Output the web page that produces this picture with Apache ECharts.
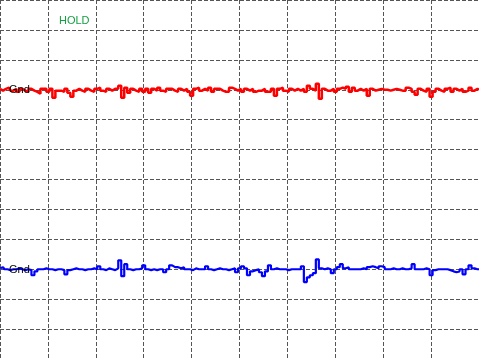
<!DOCTYPE html>
<html>
<head>
<meta charset="utf-8">
<script src="https://cdn.jsdelivr.net/npm/echarts@6/dist/echarts.min.js"></script>
<style>
html,body{margin:0;padding:0;background:#fff;}
#chart{width:479px;height:359px;}
</style>
</head>
<body>
<div id="chart"></div>
<script>
// Oscilloscope capture: 10 horizontal divisions, 12 vertical divisions
var sampleCount = 160;          // samples across the 10 horizontal divisions
var xDivisions = [0, 10];
var yDivisions = [0, 12];
var labelHold = 'HOLD';
var labelGnd = 'Gnd';

// Channel 1 (red), in divisions
var ch1 = [
  9.03, 8.97, 9.03, 9.07, 8.97, 9.03, 8.93, 9.03, 8.97, 8.93, 9.03, 8.97, 8.93, 8.87, 9.03, 9.03, 8.93, 9.03, 8.73, 8.97,
  8.97, 8.93, 9.03, 8.90, 8.77, 8.97, 9.03, 8.97, 8.93, 9.03, 8.97, 8.93, 9.03, 9.07, 8.97, 8.93, 9.03, 8.97, 9.03, 9.03,
  9.13, 8.73, 9.07, 8.90, 9.03, 8.97, 8.93, 9.03, 8.93, 9.03, 8.90, 9.03, 8.97, 9.07, 8.97, 8.93, 9.03, 9.03, 8.97, 8.93,
  9.03, 8.97, 9.03, 8.93, 8.80, 9.03, 9.07, 8.97, 9.03, 8.97, 9.07, 8.93, 9.03, 9.03, 8.97, 8.93, 8.93, 9.07, 9.03, 8.97,
  9.03, 8.93, 9.03, 8.97, 9.03, 8.93, 8.97, 8.97, 9.03, 8.93, 8.93, 9.03, 8.80, 9.03, 9.07, 8.97, 8.93, 9.03, 8.97, 9.03,
  8.97, 9.03, 8.93, 9.13, 9.03, 8.97, 9.20, 8.70, 9.03, 8.97, 8.97, 9.03, 8.93, 9.03, 9.07, 9.03, 9.10, 8.93, 9.07, 8.97,
  9.03, 8.97, 9.03, 8.80, 9.03, 8.97, 9.00, 9.03, 9.00, 9.00, 8.97, 9.00, 9.03, 9.00, 8.97, 8.97, 9.07, 9.03, 8.93, 8.83,
  9.03, 8.97, 8.93, 9.03, 8.77, 8.93, 9.03, 8.97, 8.93, 9.03, 9.07, 8.93, 9.03, 8.97, 9.03, 8.93, 8.97, 9.07, 8.97, 9.03,
  9.00
];

// Channel 2 (blue), in divisions
var ch2 = [
  3.03, 3.07, 3.00, 2.97, 3.00, 3.00, 3.03, 3.00, 2.97, 3.00, 2.97, 2.80, 2.93, 3.00, 3.00, 3.03, 3.00, 3.00, 2.97, 3.00,
  3.00, 2.97, 2.83, 2.97, 3.00, 3.03, 3.00, 3.00, 2.97, 3.00, 3.00, 3.03, 3.00, 3.10, 3.00, 2.97, 3.03, 3.00, 2.97, 3.03,
  3.30, 2.77, 3.17, 3.00, 2.97, 3.00, 3.00, 3.03, 3.13, 3.00, 2.97, 3.00, 2.97, 3.00, 3.00, 2.90, 3.00, 3.13, 3.07, 3.07,
  3.03, 3.07, 3.00, 3.00, 2.97, 3.03, 3.00, 3.00, 3.00, 3.10, 3.00, 2.97, 3.00, 3.03, 3.00, 3.00, 2.97, 3.00, 3.03, 2.90,
  3.03, 3.10, 3.03, 2.80, 2.93, 2.97, 3.00, 2.90, 2.77, 2.93, 3.13, 3.00, 3.03, 3.00, 3.00, 3.00, 2.97, 3.00, 3.00, 3.00,
  3.00, 3.10, 2.57, 2.73, 2.80, 2.87, 3.33, 3.03, 3.00, 3.03, 3.00, 2.87, 3.00, 3.07, 3.17, 3.03, 3.07, 3.00, 3.00, 3.00,
  3.00, 3.03, 3.00, 3.07, 3.10, 3.07, 3.03, 3.10, 3.07, 3.00, 3.00, 3.03, 3.00, 3.00, 3.03, 3.00, 3.00, 3.03, 3.17, 3.00,
  3.00, 3.00, 3.03, 3.00, 2.80, 2.97, 3.00, 3.00, 3.00, 3.00, 2.97, 2.93, 2.90, 2.93, 3.00, 2.83, 3.00, 3.13, 3.03, 3.00,
  3.00
];

var step = (xDivisions[1] - xDivisions[0]) / sampleCount;
function toPairs(arr){ return arr.map(function(v,i){ return [xDivisions[0] + i*step, v]; }); }

var gridLine = { show: true, lineStyle: { color: '#555555', width: 1, type: [4, 2] } };

var chart = echarts.init(document.getElementById('chart'), null, {renderer:'canvas'});
chart.setOption({
  animation: false,
  backgroundColor: '#ffffff',
  grid: { left: -1, top: -1, width: 480, height: 360, containLabel: false },
  xAxis: {
    type: 'value', min: xDivisions[0], max: xDivisions[1], interval: 1,
    axisLine: {show:false}, axisTick: {show:false}, axisLabel: {show:false},
    splitLine: gridLine
  },
  yAxis: {
    type: 'value', min: yDivisions[0], max: yDivisions[1], interval: 1,
    axisLine: {show:false}, axisTick: {show:false}, axisLabel: {show:false},
    splitLine: gridLine
  },
  series: [
    { type: 'line', data: toPairs(ch1), step: 'middle', showSymbol: false, silent: true,
      lineStyle: { color: '#ff0000', width: 2.5 }, z: 3 },
    { type: 'line', data: toPairs(ch2), step: 'middle', showSymbol: false, silent: true,
      lineStyle: { color: '#0000ff', width: 2.2 }, z: 3 }
  ],
  graphic: [
    { type: 'text', left: 59, top: 15, z: 10,
      style: { text: labelHold, fill: '#13a040', font: '11px "Liberation Sans", Arial, sans-serif' } },
    { type: 'text', left: 9, top: 84, z: 10,
      style: { text: labelGnd, fill: '#000000', font: '11px "Liberation Sans", Arial, sans-serif' } },
    { type: 'text', left: 9, top: 264, z: 10,
      style: { text: labelGnd, fill: '#000000', font: '11px "Liberation Sans", Arial, sans-serif' } }
  ]
});
</script>
</body>
</html>
